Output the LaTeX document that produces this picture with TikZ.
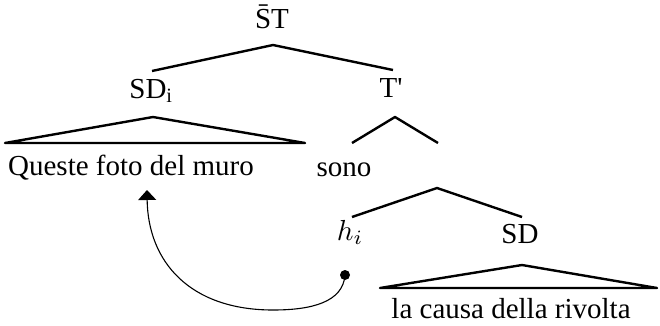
\documentclass[tikz,border=0pt]{standalone}
\usepackage{fontspec}
\setmainfont{Liberation Serif}
\usetikzlibrary{arrows.meta}
\tikzset{
  lbl/.style={inner sep=0pt, anchor=base, font=\fontsize{29}{34}\selectfont},
  mathlbl/.style={inner sep=0pt, anchor=base, font=\normalsize, scale=2.9},
  branch/.style={line width=2.4pt, line join=round},
  movearc/.style={line width=1.1pt, -{Triangle[width=18pt,length=10pt]}}
}
\begin{document}
\begin{tikzpicture}[x=1pt,y=-1pt]
    \useasboundingbox (0,0) rectangle (660,325);
    % labels of the tree
    \node[lbl] (st) at (272,28) {\={S}T};
    \node[lbl] (sdi) at (151,98) {SD\textsubscript{i}};
    \node[lbl] (tbar) at (391,97) {T\textquotesingle};
    \node[lbl] (queste) at (131,175) {Queste foto del muro};
    \node[lbl] (sono) at (344,176) {sono};
    \node[mathlbl] (hi) at (350,240) {$h_i$};
    \node[lbl] (sd) at (520,243) {SD};
    \node[lbl] (causa) at (511,318) {la causa della rivolta};
    % branch points
    \coordinate (stTop) at (273,45);
    \coordinate (stL) at (152,71);
    \coordinate (stR) at (393,70);
    \coordinate (sdiTop) at (153,117);
    \coordinate (sdiL) at (5,143);
    \coordinate (sdiR) at (305,143);
    \coordinate (tTop) at (395,117);
    \coordinate (tL) at (352,143);
    \coordinate (tR) at (438,143);
    \coordinate (vTop) at (437,188);
    \coordinate (vL) at (352,217);
    \coordinate (vR) at (522,217);
    \coordinate (sdTop) at (522,265);
    \coordinate (sdL) at (380,288);
    \coordinate (sdR) at (657,288);
    \coordinate (trace) at (345,275);
    \coordinate (landing) at (147,190);
    % branches
    \draw[branch] (stL) -- (stTop) -- (stR);
    \draw[branch] (sdiL) -- (sdiTop) -- (sdiR) -- cycle;
    \draw[branch] (tL) -- (tTop) -- (tR);
    \draw[branch] (vL) -- (vTop) -- (vR);
    \draw[branch] (sdL) -- (sdTop) -- (sdR) -- cycle;
    % movement
    \fill (trace) circle (5);
    \draw[movearc] (trace) .. controls (343,302) and (312,310) .. (273,310)
        .. controls (190,310) and (148,262) .. (landing);
\end{tikzpicture}
\end{document}
